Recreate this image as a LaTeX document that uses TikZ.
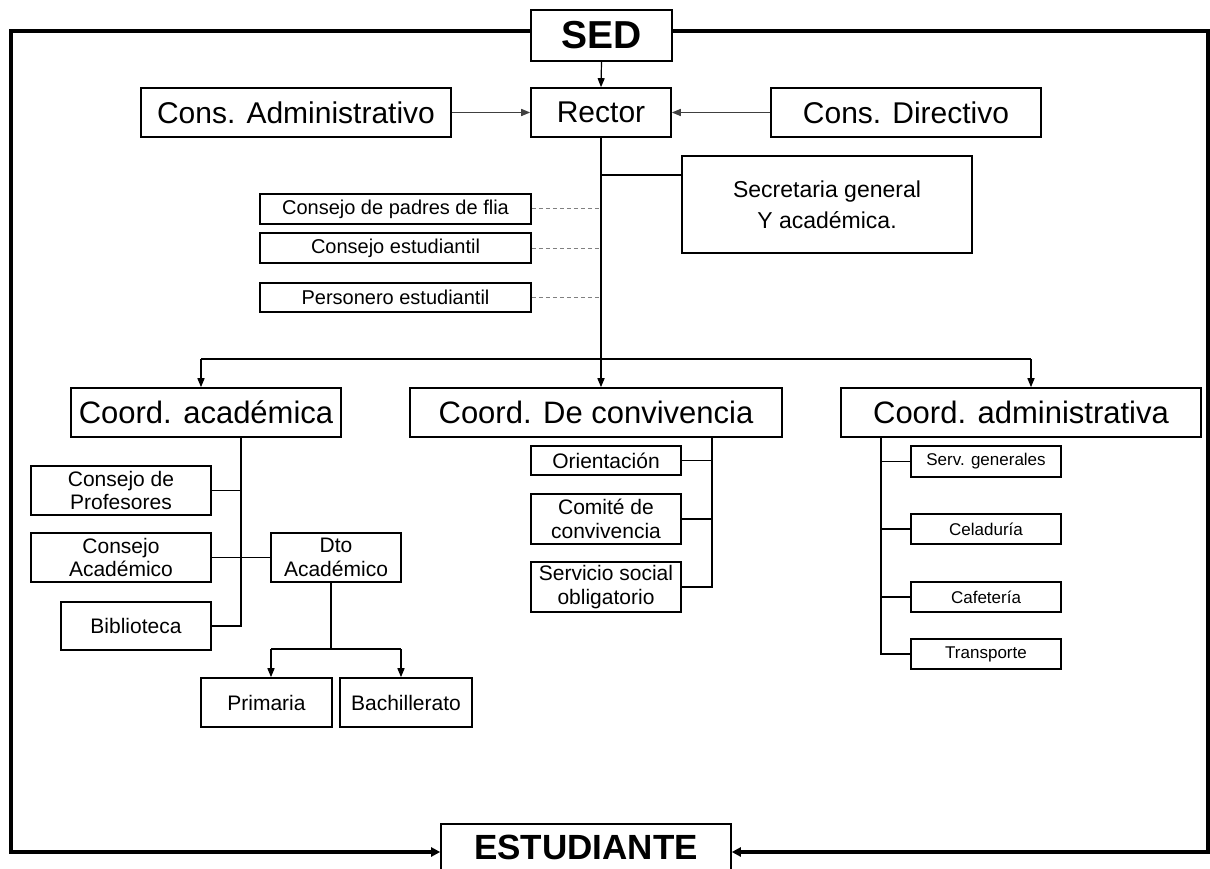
\documentclass[tikz,border=0pt]{standalone}
\usepackage{fontspec}
\setmainfont{Liberation Sans}
\usetikzlibrary{arrows.meta}
\tikzset{
  box/.style={draw, line width=1.6pt, fill=white, inner sep=0pt, align=center},
  conn/.style={line width=1.5pt},
  dsh/.style={line width=1pt, gray, dash pattern=on 4pt off 3pt},
  arr/.style={line width=1.5pt, -{Triangle[length=9pt,width=7pt]}},
  framearr/.style={line width=3.2pt, -{Triangle[length=9pt,width=9pt]}},
  big/.style={font=\fontsize{30}{34}\selectfont},
  coord/.style={font=\fontsize{31}{34}\selectfont},
  mid/.style={font=\fontsize{21}{23.5}\selectfont},
  small/.style={font=\fontsize{20}{22}\selectfont},
  tiny/.style={font=\fontsize{17}{19}\selectfont},
}
\begin{document}
\begin{tikzpicture}[x=1pt,y=-1pt]
\useasboundingbox (0,0) rectangle (1210,869);
\clip (0,0) rectangle (1210,869);
\fill[white] (0,0) rectangle (1210,869);

% top nodes
\node[box, minimum width=141pt, minimum height=51pt, font=\fontsize{39}{40}\selectfont\bfseries] (SED) at (601.5,35.5) {SED};
\node[box, big, minimum width=140pt, minimum height=49pt] (Rector) at (601,112.5) {Rector};
\node[box, big, minimum width=310pt, minimum height=49pt] (consadm) at (296,112.5) {Cons. Administrativo};
\node[box, big, minimum width=270pt, minimum height=49pt] (consdir) at (906,112.5) {Cons. Directivo};
\node[box, font=\fontsize{23}{31}\selectfont, minimum width=290pt, minimum height=97pt] (secre) at (827,204.5) {Secretaria general\\Y académica.};
\node[box, small, minimum width=271pt, minimum height=30pt] (padres) at (395.5,209) {Consejo de padres de flia};
\node[box, small, minimum width=271pt, minimum height=30pt] (estud) at (395.5,248) {Consejo estudiantil};
\node[box, small, minimum width=271pt, minimum height=29pt] (person) at (395.5,297.5) {Personero estudiantil};

% coordinations
\node[box, coord, minimum width=270pt, minimum height=49pt] (cacad) at (206,412.5) {Coord. académica};
\node[box, coord, minimum width=372pt, minimum height=49pt] (cconv) at (596,412.5) {Coord. De convivencia};
\node[box, coord, minimum width=360pt, minimum height=49pt] (cadm) at (1021,412.5) {Coord. administrativa};

% academic column
\node[box, mid, minimum width=180pt, minimum height=49pt] (cprof) at (121,490.5) {Consejo de\\Profesores};
\node[box, mid, minimum width=180pt, minimum height=49pt] (cacadm) at (121,557.5) {Consejo\\Académico};
\node[box, mid, minimum width=150pt, minimum height=48pt] (biblio) at (136,626) {Biblioteca};
\node[box, mid, minimum width=130pt, minimum height=49pt] (dto) at (336,557.5) {Dto\\Académico};
\node[box, mid, minimum width=131pt, minimum height=49pt] (prim) at (266.5,702.5) {Primaria};
\node[box, mid, minimum width=132pt, minimum height=49pt] (bach) at (406,702.5) {Bachillerato};

% convivencia column
\node[box, mid, minimum width=150pt, minimum height=29pt] (orient) at (606,460.5) {Orientación};
\node[box, mid, minimum width=150pt, minimum height=50pt] (comite) at (606,519) {Comité de\\convivencia};
\node[box, mid, minimum width=150pt, minimum height=50pt] (servicio) at (606,587) {Servicio social\\obligatorio};

% admin column
\node[box, tiny, minimum width=150pt, minimum height=31pt] (serv) at (986,461.5) {Serv. generales};
\node[box, tiny, minimum width=150pt, minimum height=30pt] (cela) at (986,529) {Celaduría};
\node[box, tiny, minimum width=150pt, minimum height=30pt] (cafe) at (986,597) {Cafetería};
\node[box, tiny, minimum width=150pt, minimum height=30pt] (trans) at (986,654) {Transporte};

% estudiante
\node[box, minimum width=290pt, minimum height=100pt, anchor=north] (estu) at (586,823) {};
\node[font=\fontsize{35}{36}\selectfont\bfseries, inner sep=0pt] (estutxt) at (586,847.5) {ESTUDIANTE};

% frame
\coordinate (tl) at (11,31);
\coordinate (tr) at (1208,31);
\coordinate (bl) at (11,852);
\coordinate (br) at (1208,852);
\draw[framearr] (SED.west |- tl) -- (tl) -- (bl) -- (estu.west |- bl);
\draw[framearr] (SED.east |- tr) -- (tr) -- (br) -- (estu.east |- br);

% top arrows
\draw[arr, line width=1.2pt] (SED.south) -- (Rector.north);
\draw[arr, line width=1.4pt, black!75] (consadm.east) -- (Rector.west);
\draw[arr, line width=1.4pt, black!75] (consdir.west) -- (Rector.east);

% main spine
\coordinate (bus1) at (201,359);
\coordinate (bus2) at (1031,359);
\draw[conn] (Rector.south) -- (Rector.south |- bus1);
\draw[conn] (bus1) -- (bus2);
\draw[arr] (bus1) -- (bus1 |- cacad.north);
\draw[arr] (Rector.south |- bus1) -- (Rector.south |- cconv.north);
\draw[arr] (bus2) -- (bus2 |- cadm.north);

% secretaria
\draw[conn] ([yshift=29.5pt]secre.west) -- ([yshift=29.5pt]secre.west -| Rector.south);

% dashed
\draw[dsh] (padres.east) -- (padres.east -| Rector.south);
\draw[dsh] (estud.east) -- (estud.east -| Rector.south);
\draw[dsh] (person.east) -- (person.east -| Rector.south);

% academic column
\coordinate (acol) at (241,0);
\draw[conn] (acol |- cacad.south) -- (acol |- biblio.east) -- (biblio.east);
\draw[conn] (cprof.east) -- (cprof.east -| acol);
\draw[conn] (cacadm.east) -- (dto.west);
\coordinate (dj) at (331,649);
\coordinate (dl) at (271,649);
\coordinate (dr) at (401,649);
\draw[conn] (dto.south -| dj) -- (dj);
\draw[conn] (dl) -- (dr);
\draw[arr] (dl) -- (dl |- prim.north);
\draw[arr] (dr) -- (dr |- bach.north);

% convivencia column
\coordinate (cv) at (712,0);
\draw[conn] (cv |- cconv.south) -- (cv |- servicio.east) -- (servicio.east);
\draw[conn] (orient.east) -- (orient.east -| cv);
\draw[conn] (comite.east) -- (comite.east -| cv);

% admin column
\coordinate (av) at (881,0);
\draw[conn] (av |- cadm.south) -- (av |- trans.west) -- (trans.west);
\draw[conn] (serv.west) -- (serv.west -| av);
\draw[conn] (cela.west) -- (cela.west -| av);
\draw[conn] (cafe.west) -- (cafe.west -| av);
\end{tikzpicture}
\end{document}
